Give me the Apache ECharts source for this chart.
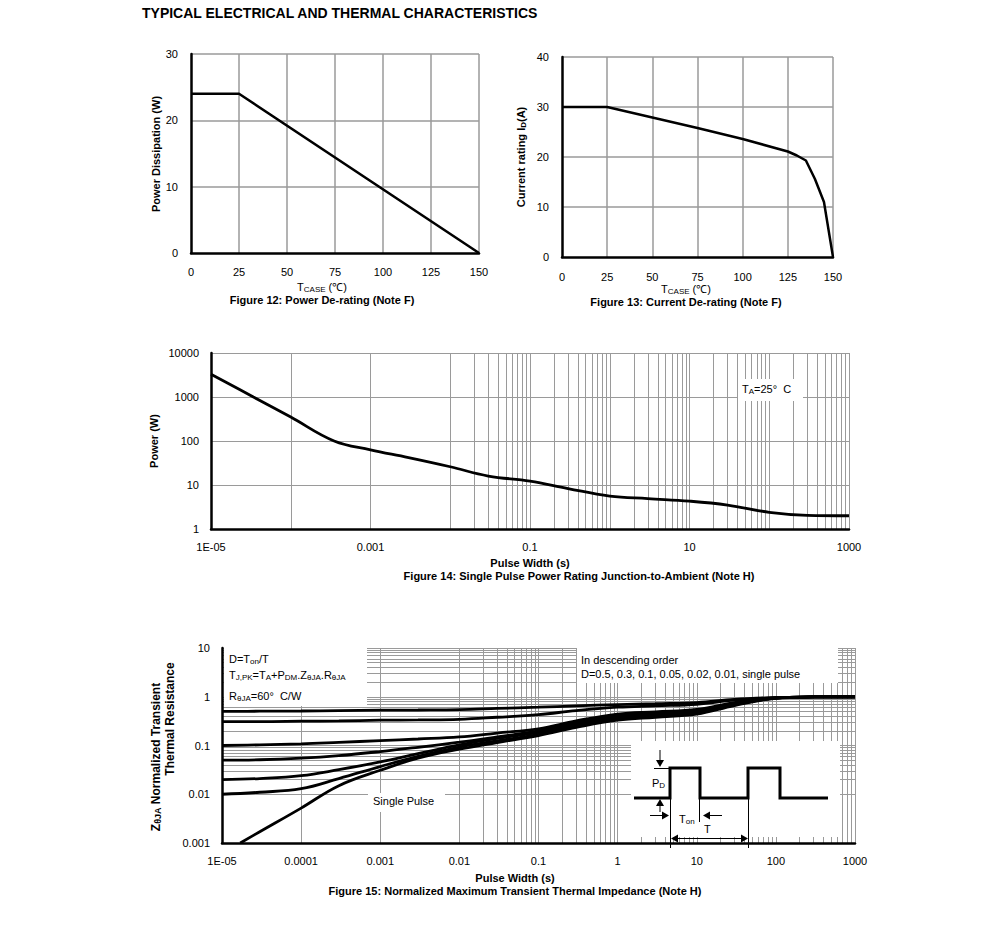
<!DOCTYPE html>
<html><head><meta charset="utf-8">
<script src="https://cdn.jsdelivr.net/npm/echarts@6/dist/echarts.min.js"></script>
<style>html,body{margin:0;padding:0;background:#fff}#c{width:991px;height:932px}</style>
</head><body><div id="c"></div>
<script>
// ---------- DATA ----------
const fig12Temp = [0, 25, 150];
const fig12Power = [24, 24, 0];

const fig13Temp = [0, 25, 50, 75, 100, 125, 130, 135, 140, 145, 150];
const fig13Current = [30, 30, 27.9, 25.8, 23.6, 21.1, 20.3, 19.3, 15.6, 11.0, 0];

const fig14Width = [1e-5, 3.4e-5, 1e-4, 3.5e-4, 1e-3, 3e-3, 1e-2, 3e-2, 0.1, 0.3, 1, 3, 10, 30, 100, 300, 1000];
const fig14Power = [3300, 1000, 350, 100, 63, 42, 26, 16, 12.3, 8.3, 5.6, 4.9, 4.3, 3.5, 2.4, 2.05, 2.0];

const fig15Width = [1e-5, 3e-5, 1e-4, 3e-4, 1e-3, 3e-3, 1e-2, 3e-2, 0.1, 0.3, 1, 3, 10, 30, 100, 300, 1000];
const zD050 = [0.50, 0.505, 0.51, 0.52, 0.53, 0.535, 0.545, 0.575, 0.61, 0.65, 0.69, 0.72, 0.76, 0.88, 0.96, 0.99, 1.0];
const zD030 = [0.31, 0.31, 0.315, 0.32, 0.33, 0.335, 0.345, 0.38, 0.43, 0.52, 0.61, 0.65, 0.70, 0.85, 0.96, 0.99, 1.0];
const zD010 = [0.10, 0.103, 0.108, 0.116, 0.126, 0.136, 0.15, 0.18, 0.22, 0.32, 0.44, 0.49, 0.55, 0.76, 0.95, 0.99, 1.0];
const zD005 = [0.05, 0.051, 0.055, 0.062, 0.075, 0.092, 0.117, 0.15, 0.20, 0.29, 0.41, 0.46, 0.52, 0.73, 0.95, 0.99, 1.0];
const zD002 = [0.02, 0.021, 0.024, 0.032, 0.046, 0.068, 0.103, 0.14, 0.185, 0.27, 0.38, 0.43, 0.49, 0.70, 0.94, 0.99, 1.0];
const zD001 = [0.01, 0.011, 0.013, 0.021, 0.037, 0.060, 0.093, 0.125, 0.17, 0.25, 0.35, 0.40, 0.46, 0.68, 0.94, 0.99, 1.0];
const singleWidth = [1.7e-5, 3e-5, 1e-4, 3e-4, 1e-3, 3e-3, 1e-2, 3e-2, 0.1, 0.3, 1, 3, 10, 30, 100, 300, 1000];
const zSingle = [0.001, 0.0017, 0.0052, 0.015, 0.031, 0.055, 0.084, 0.115, 0.16, 0.235, 0.33, 0.38, 0.44, 0.66, 0.93, 0.99, 1.0];

// tick labels
const fig14XLabels = ['1E-05', '', '0.001', '', '0.1', '', '10', '', '1000'];
const fig14YLabels = ['1', '10', '100', '1000', '10000'];
const fig15XLabels = ['1E-05', '0.0001', '0.001', '0.01', '0.1', '1', '10', '100', '1000'];
const fig15YLabels = ['0.001', '0.01', '0.1', '1', '10'];

// ---------- STYLE ----------
const F = '"Liberation Sans", Arial, sans-serif';
const FN = '"Liberation Sans Narrow", "Arial Narrow", "Liberation Sans", sans-serif';
const GRID_C = '#9a9a9a';

const G = [
  {left: 191, top: 54, width: 288, height: 199},
  {left: 562, top: 57, width: 271, height: 200},
  {left: 211, top: 353, width: 638, height: 176},
  {left: 222, top: 648, width: 633, height: 195}
];

function zip(a, b) { return a.map((v, i) => [v, b[i]]); }
function logLabel(arr, minExp) {
  return v => arr[Math.round(Math.log10(v)) - minExp] || '';
}
// minor log grid values (2..9 in each decade)
function minors(e0, e1) {
  const out = [];
  for (let e = e0; e < e1; e++) for (let m = 2; m <= 9; m++) out.push(+(m * Math.pow(10, e)).toPrecision(3));
  return out;
}

function valAxis(gi, min, max, interval, isX, margin, fam, gw) {
  return {
    type: 'value', gridIndex: gi, min, max, interval,
    position: isX ? 'bottom' : 'left', z: 2,
    axisLine: {show: true, onZero: false, lineStyle: {color: '#000', width: 2.5}},
    axisTick: {show: false},
    axisLabel: {color: '#000', fontFamily: fam || F, fontSize: 11, margin},
    splitLine: {show: true, showMinLine: false, showMaxLine: true, lineStyle: {color: GRID_C, width: gw || 1.5}}
  };
}
function logAxis(gi, min, max, isX, margin, fmt, fam) {
  return {
    type: 'log', logBase: 10, gridIndex: gi, min, max,
    position: isX ? 'bottom' : 'left', z: 2,
    axisLine: {show: true, onZero: false, lineStyle: {color: '#000', width: 2.5}},
    axisTick: {show: false},
    axisLabel: {color: '#000', fontFamily: fam || F, fontSize: 11, margin, formatter: fmt},
    splitLine: {show: true, showMinLine: false, showMaxLine: true, lineStyle: {color: GRID_C, width: 1}}
  };
}
function gridSeries(xi, xs, ys) {
  return {
    type: 'line', xAxisIndex: xi, yAxisIndex: xi, data: [], silent: true, z: 1,
    markLine: {
      silent: true, z: 1, animation: false, symbol: ['none', 'none'], label: {show: false},
      lineStyle: {color: GRID_C, width: 1, type: 'solid'}, emphasis: {disabled: true},
      data: xs.map(v => ({xAxis: v})).concat(ys.map(v => ({yAxis: v})))
    }
  };
}
function curve(xi, data, w, smooth) {
  return {
    type: 'line', xAxisIndex: xi, yAxisIndex: xi, data, symbol: 'none', z: 4,
    smooth: smooth || false, silent: true,
    lineStyle: {color: '#000', width: w}
  };
}

// ---------- TEXT HELPERS ----------
function rt(parts, fam, size, weight) {
  const ss = Math.round(size * 0.72);
  return {
    text: parts.map(p => '{' + (p[1] ? 's' : 'n') + '|' + p[0] + '}').join(''),
    rich: {
      n: {fontFamily: fam, fontSize: size, fontWeight: weight, lineHeight: size + 3, verticalAlign: 'top', fill: '#000'},
      s: {fontFamily: fam, fontSize: ss, fontWeight: weight, lineHeight: ss, padding: [Math.round(size * 0.35), 0, 0, 0], verticalAlign: 'top', fill: '#000'}
    }
  };
}
function T(x, y, parts, o) {
  o = o || {};
  const r = rt(parts, o.fam || F, o.size || 11, o.weight || 'normal');
  return {
    type: 'text', x, y, rotation: o.rot || 0, z: 6, silent: true,
    style: {text: r.text, rich: r.rich, x: 0, y: 0, align: o.align || 'center', verticalAlign: 'middle'}
  };
}
function box(x, y, w, h) {
  return {type: 'rect', z: 3, silent: true, shape: {x, y, width: w, height: h}, style: {fill: '#fff'}};
}
function ln(x1, y1, x2, y2, w) {
  return {type: 'line', z: 6, silent: true, shape: {x1, y1, x2, y2}, style: {stroke: '#000', lineWidth: w || 1}};
}
function arrowHead(x, y, dir) {
  const s = 4, L = 7;
  let pts;
  if (dir === 'down') pts = [[x, y], [x - s, y - L], [x + s, y - L]];
  if (dir === 'up') pts = [[x, y], [x - s, y + L], [x + s, y + L]];
  if (dir === 'right') pts = [[x, y], [x - L, y - s], [x - L, y + s]];
  if (dir === 'left') pts = [[x, y], [x + L, y - s], [x + L, y + s]];
  return {type: 'polygon', z: 6, silent: true, shape: {points: pts}, style: {fill: '#000'}};
}

const PI2 = Math.PI / 2;
const graphics = [
  T(142, 14, [['TYPICAL ELECTRICAL AND THERMAL CHARACTERISTICS']], {weight: 'bold', size: 14, align: 'left'}),
  // Fig 12
  T(157, 154, [['Power Dissipation (W)']], {weight: 'bold', rot: PI2}),
  T(322, 288, [['T'], ['CASE', 1], [' (℃)']], {}),
  T(322, 301, [['Figure 12: Power De-rating (Note F)']], {weight: 'bold'}),
  // Fig 13
  T(522, 157, [['Current rating I'], ['D', 1], ['(A)']], {weight: 'bold', rot: PI2}),
  T(686, 290, [['T'], ['CASE', 1], [' (℃)']], {}),
  T(686, 303, [['Figure 13: Current De-rating (Note F)']], {weight: 'bold'}),
  // Fig 14
  T(155, 441, [['Power (W)']], {weight: 'bold', rot: PI2}),
  box(738, 379, 65, 22),
  T(742, 390, [['T'], ['A', 1], ['=25°  C']], {align: 'left'}),
  T(530, 564, [['Pulse Width (s)']], {weight: 'bold', fam: FN}),
  T(579, 577, [['Figure 14: Single Pulse Power Rating Junction-to-Ambient (Note H)']], {weight: 'bold', fam: FN}),
  // Fig 15
  T(157, 757, [['Z'], ['θJA', 1], [' Normalized Transient']], {weight: 'bold', rot: PI2, size: 12}),
  T(171, 719, [['Thermal Resistance']], {weight: 'bold', rot: PI2, size: 12}),
  box(224, 647, 143, 59),
  T(229, 660, [['D=T'], ['on', 1], ['/T']], {align: 'left'}),
  T(229, 676, [['T'], ['J,PK', 1], ['=T'], ['A', 1], ['+P'], ['DM', 1], ['.Z'], ['θJA', 1], ['.R'], ['θJA', 1]], {align: 'left'}),
  T(229, 697, [['R'], ['θJA', 1], ['=60°  C/W']], {align: 'left'}),
  box(577, 647, 261, 36),
  T(581, 661, [['In descending order']], {align: 'left'}),
  T(581, 675, [['D=0.5, 0.3, 0.1, 0.05, 0.02, 0.01, single pulse']], {align: 'left'}),
  box(368, 793, 77, 19),
  T(373, 802, [['Single Pulse']], {align: 'left'}),
  T(515, 879, [['Pulse Width (s)']], {weight: 'bold', fam: FN}),
  T(515, 892, [['Figure 15: Normalized Maximum Transient Thermal Impedance (Note H)']], {weight: 'bold', fam: FN}),
  // inset pulse diagram
  box(631, 741, 209, 96),
  {type: 'polyline', z: 6, silent: true, shape: {points: [[634, 798], [670, 798], [670, 768], [700, 768], [700, 798], [748, 798], [748, 768], [780, 768], [780, 798], [828, 798]]}, style: {stroke: '#000', lineWidth: 3, fill: null}},
  ln(654, 768.5, 670, 768.5),
  ln(660, 750, 660, 760), arrowHead(660, 767, 'down'),
  ln(660, 812, 660, 806), arrowHead(660, 799, 'up'),
  T(652, 784, [['P'], ['D', 1]], {align: 'left'}),
  ln(650, 815.5, 662, 815.5), arrowHead(669, 815.5, 'right'),
  ln(722, 815.5, 710, 815.5), arrowHead(703, 815.5, 'left'),
  ln(670.5, 768, 670.5, 848),
  ln(699.5, 798, 699.5, 822),
  ln(748.5, 768, 748.5, 848),
  T(679, 820, [['T'], ['on', 1]], {align: 'left'}),
  T(704, 830, [['T']], {align: 'left'}),
  ln(678, 838.5, 741, 838.5), arrowHead(671, 838.5, 'left'), arrowHead(748, 838.5, 'right')
];

const option = {
  animation: false,
  backgroundColor: '#fff',
  grid: G.map(g => Object.assign({containLabel: false, outerBoundsMode: 'none', show: false}, g)),
  xAxis: [
    valAxis(0, 0, 150, 25, true, 13),
    valAxis(1, 0, 150, 25, true, 14),
    logAxis(2, 1e-5, 1000, true, 12, logLabel(fig14XLabels, -5), FN),
    logAxis(3, 1e-5, 1000, true, 12, logLabel(fig15XLabels, -5), FN)
  ],
  yAxis: [
    valAxis(0, 0, 30, 10, false, 13),
    valAxis(1, 0, 40, 10, false, 13),
    logAxis(2, 1, 10000, false, 12, logLabel(fig14YLabels, 0)),
    logAxis(3, 0.001, 10, false, 12, logLabel(fig15YLabels, -3))
  ],
  series: [
    gridSeries(2, minors(-5, 3), []),
    gridSeries(3, minors(-5, 3), minors(-3, 1)),
    curve(0, zip(fig12Temp, fig12Power), 2.5),
    curve(1, zip(fig13Temp, fig13Current), 2.5),
    curve(2, zip(fig14Width, fig14Power), 2.8, 0.4),
    curve(3, zip(fig15Width, zD050), 2.8, 0.4),
    curve(3, zip(fig15Width, zD030), 2.8, 0.4),
    curve(3, zip(fig15Width, zD010), 2.8, 0.4),
    curve(3, zip(fig15Width, zD005), 2.8, 0.4),
    curve(3, zip(fig15Width, zD002), 2.8, 0.4),
    curve(3, zip(fig15Width, zD001), 2.8, 0.4),
    curve(3, zip(singleWidth, zSingle), 2.8, 0.4)
  ],
  graphic: {elements: graphics}
};

const chart = echarts.init(document.getElementById('c'), null, {renderer: 'svg', width: 991, height: 932});
chart.setOption(option);
</script></body></html>
